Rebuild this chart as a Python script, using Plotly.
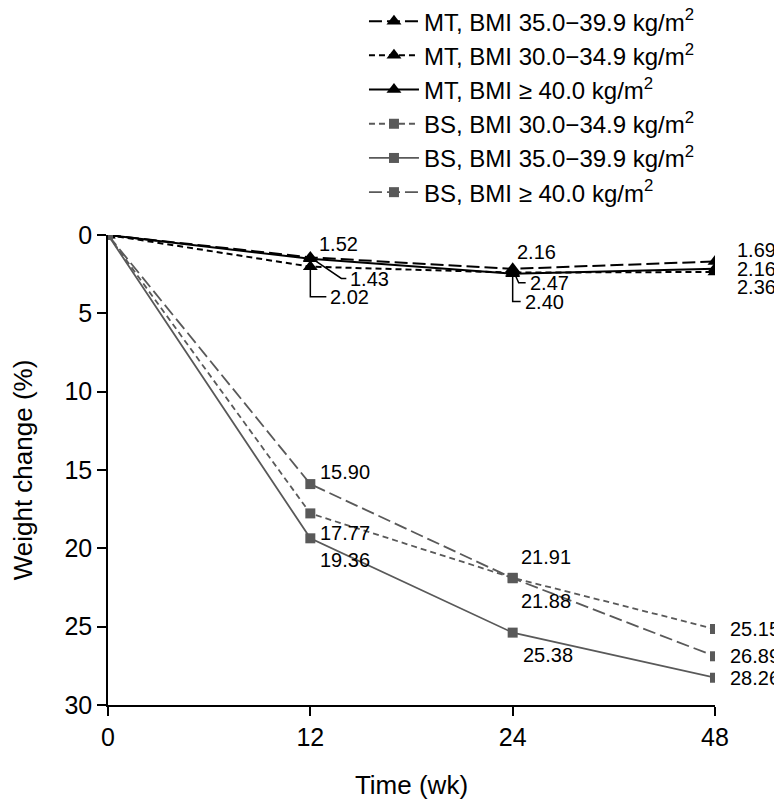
import plotly.graph_objects as go

# semaines (axe x en catégories)
weeks = ["0", "12", "24", "48"]

# perte de poids (%) par groupe
mt_35_39 = [0, 1.43, 2.16, 1.69]
mt_30_34 = [0, 2.02, 2.40, 2.36]
mt_40 = [0, 1.52, 2.47, 2.16]
bs_30_34 = [0, 17.77, 21.88, 25.15]
bs_35_39 = [0, 19.36, 25.38, 28.26]
bs_40 = [0, 15.90, 21.91, 26.89]

y_ticks = [0, 5, 10, 15, 20, 25, 30]

FONT = "Liberation Sans, Arial, sans-serif"
BLACK = "#000000"
GREY = "#595959"
SHORT = "6px,4px"
LONG = "13px,5px"

series = [
    ("MT, BMI 35.0\u221239.9 kg/m<sup>2</sup>", mt_35_39, BLACK, LONG, "triangle-up"),
    ("MT, BMI 30.0\u221234.9 kg/m<sup>2</sup>", mt_30_34, BLACK, SHORT, "triangle-up"),
    ("MT, BMI \u2265 40.0 kg/m<sup>2</sup>", mt_40, BLACK, "solid", "triangle-up"),
    ("BS, BMI 30.0\u221234.9 kg/m<sup>2</sup>", bs_30_34, GREY, SHORT, "square"),
    ("BS, BMI 35.0\u221239.9 kg/m<sup>2</sup>", bs_35_39, GREY, "solid", "square"),
    ("BS, BMI \u2265 40.0 kg/m<sup>2</sup>", bs_40, GREY, LONG, "square"),
]

# décalage des étiquettes (xshift, yshift) en pixels, None = pas d'étiquette
offsets = [
    [None, (38, -22), (2, 17), (20, 11)],
    [None, (18, -30), (10, -29), (20, -15)],
    [None, (7, 15), (15, -9), (20, 0)],
    [None, (8, -20), (6, -23), (13, 0)],
    [None, (8, -22), (8, -22), (13, 0)],
    [None, (8, 12), (6, 21), (13, 0)],
]

# traits de rappel coudés (série, index, chemin en pixels)
leaders = [
    (0, 1, "M 0 0 L 31 -21 L 36 -21"),
    (1, 1, "M 0 0 L 0 -30 L 16 -30"),
    (2, 2, "M 2 0 L 6 -9 L 13 -9"),
    (1, 2, "M 0 0 L 0 -29 L 8 -29"),
]

fig = go.Figure()
for name, vals, col, dash, sym in series:
    is_mt = sym == "triangle-up"
    fig.add_trace(go.Scatter(
        x=weeks, y=vals, name=name, mode="lines+markers",
        line=dict(color=col, width=2 if is_mt else 1.8, dash=dash),
        marker=dict(symbol=sym, color=col, size=13 if is_mt else 10),
    ))

for k, (name, vals, col, dash, sym) in enumerate(series):
    for i, off in enumerate(offsets[k]):
        if off is None:
            continue
        fig.add_annotation(
            x=i, y=vals[i], text="%.2f" % vals[i], showarrow=False,
            xanchor="left", yanchor="middle", xshift=off[0], yshift=off[1],
            font=dict(family=FONT, size=20, color="#000000"),
        )

for k, i, path in leaders:
    fig.add_shape(
        type="path", xref="x", yref="y", xsizemode="pixel", ysizemode="pixel",
        xanchor=i, yanchor=series[k][1][i], path=path,
        line=dict(color="#000000", width=1.5),
    )

# la page ajoute une marge de 8 px autour de la figure
fig.update_layout(
    width=782, height=800,
    margin=dict(l=100, r=75, t=227, b=103, autoexpand=False),
    paper_bgcolor="white", plot_bgcolor="white",
    font=dict(family=FONT, size=25, color="#000000"),
    showlegend=True,
    legend=dict(
        x=0.4217, y=1.502, xanchor="left", yanchor="top",
        font=dict(family=FONT, size=24), bgcolor="rgba(0,0,0,0)",
        tracegroupgap=0, itemwidth=50,
    ),
)
fig.update_xaxes(
    type="category", range=[0, 3], showgrid=False, zeroline=False,
    showline=True, linecolor="#000000", linewidth=1.5,
    ticks="outside", ticklen=9, tickwidth=1.5, tickcolor="#000000",
    tickfont=dict(size=25),
    title=dict(text="Time (wk)", font=dict(size=26), standoff=26),
)
fig.update_yaxes(
    range=[30, 0], tickvals=y_ticks, showgrid=False, zeroline=False,
    showline=True, linecolor="#000000", linewidth=1.5,
    ticks="outside", ticklen=9, tickwidth=1.5, tickcolor="#000000",
    tickfont=dict(size=25),
    title=dict(text="Weight change (%)", font=dict(size=26), standoff=28),
)

fig.write_html("out.html")
